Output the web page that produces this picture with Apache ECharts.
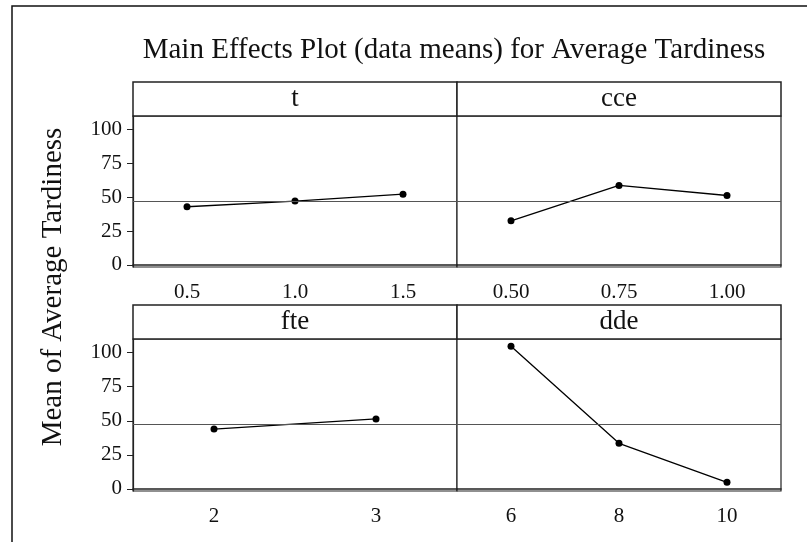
<!DOCTYPE html>
<html>
<head>
<meta charset="utf-8">
<script src="https://cdn.jsdelivr.net/npm/echarts@6/dist/echarts.min.js"></script>
<style>
  html, body { margin: 0; padding: 0; background: #fff; }
  #main { width: 807px; height: 542px; }
</style>
</head>
<body>
<div id="main"></div>
<script>
  // factor levels and the means
  const tLevels = ['0.5', '1.0', '1.5'];
  const tMeans = [43.0, 47.2, 52.3];
  const cceLevels = ['0.50', '0.75', '1.00'];
  const cceMeans = [32.6, 58.7, 51.3];
  const fteLevels = ['2', '3'];
  const fteMeans = [43.9, 51.4];
  const ddeLevels = ['6', '8', '10'];
  const ddeMeans = [104.7, 33.5, 4.9];
  const panelNames = ['t', 'cce', 'fte', 'dde'];
  const yTicks = [0, 25, 50, 75, 100];
  const grandMean = 47.4;

  const font = 'Liberation Serif, Times New Roman, serif';
  const ink = '#111';

  const panels = [
    { levels: tLevels, means: tMeans, left: 133, top: 116, height: 151 },
    { levels: cceLevels, means: cceMeans, left: 457, top: 116, height: 151 },
    { levels: fteLevels, means: fteMeans, left: 133, top: 339, height: 152 },
    { levels: ddeLevels, means: ddeMeans, left: 457, top: 339, height: 152 }
  ];

  let grids = [], xAxes = [], yAxes = [], series = [], graphics = [];

  panels.forEach((p, i) => {
    let leftCol = (i % 2 === 0);
    grids.push({
      left: p.left, top: p.top, width: 324, height: p.height,
      show: true, borderColor: '#222', borderWidth: 1.2, backgroundColor: '#fff'
    });
    xAxes.push({
      type: 'category', gridIndex: i, data: p.levels, boundaryGap: true,
      axisLine: { show: true, lineStyle: { color: '#222', width: 1.5 } },
      axisTick: { alignWithLabel: true, length: 6, lineStyle: { color: '#222' } },
      axisLabel: { fontFamily: font, fontSize: 21, color: ink, margin: 15 },
      splitLine: { show: false }
    });
    yAxes.push({
      type: 'value', gridIndex: i, min: -1.5, max: 110,
      show: leftCol,
      axisLine: { show: true, lineStyle: { color: '#222', width: 1.2 } },
      axisTick: { show: true, length: 6, customValues: yTicks, lineStyle: { color: '#222' } },
      axisLabel: { fontFamily: font, fontSize: 21, color: ink, margin: 11, customValues: yTicks },
      splitLine: { show: false }
    });
    series.push({
      type: 'line', xAxisIndex: i, yAxisIndex: i, data: p.means,
      symbol: 'circle', symbolSize: 7,
      itemStyle: { color: '#000' },
      lineStyle: { color: '#000', width: 1.3 },
      markLine: {
        silent: true, symbol: 'none', label: { show: false },
        lineStyle: { color: '#555', type: 'solid', width: 1.2 },
        data: [{ yAxis: grandMean }]
      }
    });
    // header strip with the factor name
    graphics.push({
      type: 'rect',
      shape: { x: p.left, y: p.top - 34, width: 324, height: 34 },
      style: { fill: '#fff', stroke: '#222', lineWidth: 1.5 }
    });
    graphics.push({
      type: 'text', x: p.left + 162, y: p.top - 17,
      style: { text: panelNames[i], font: '27px ' + font, fill: ink, textAlign: 'center', textVerticalAlign: 'middle' }
    });
  });

  graphics.push({
    type: 'rect', shape: { x: 12, y: 6, width: 900, height: 700 },
    style: { fill: 'none', stroke: '#111', lineWidth: 1.5 }
  });
  graphics.push({
    type: 'text', x: 454, y: 50,
    style: { text: 'Main Effects Plot (data means) for Average Tardiness', font: '29px ' + font, fill: ink, textAlign: 'center', textVerticalAlign: 'middle' }
  });
  graphics.push({
    type: 'text', x: 53, y: 287, rotation: Math.PI / 2,
    style: { text: 'Mean of Average Tardiness', font: '29px ' + font, fill: ink, textAlign: 'center', textVerticalAlign: 'middle' }
  });

  let myChart = echarts.init(document.getElementById('main'));
  myChart.setOption({
    animation: false,
    backgroundColor: '#fff',
    grid: grids,
    xAxis: xAxes,
    yAxis: yAxes,
    series: series,
    graphic: graphics
  });
</script>
</body>
</html>
